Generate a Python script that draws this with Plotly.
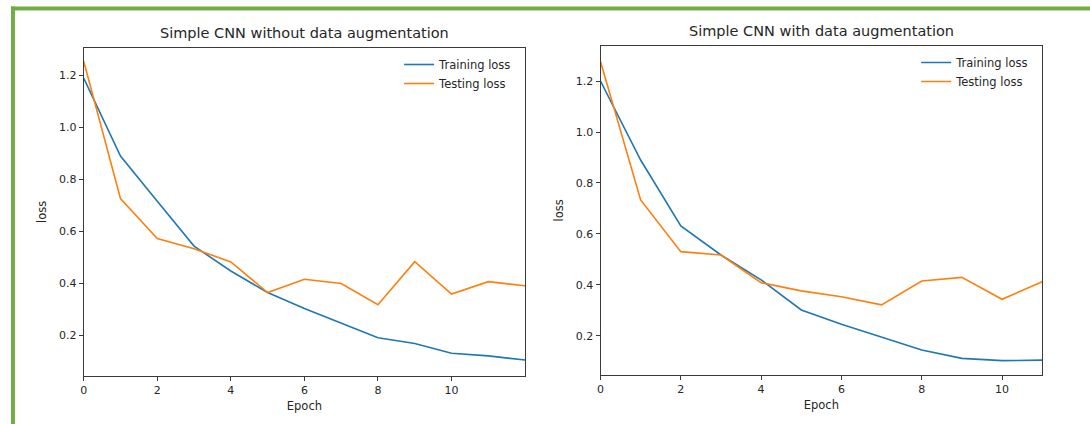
import plotly.graph_objects as go

# ---- data ----
epochs_left = list(range(13))
train_left = [1.19, 0.89, 0.716, 0.543, 0.447, 0.364, 0.303, 0.246, 0.19, 0.168, 0.13, 0.12, 0.104]
test_left = [1.255, 0.726, 0.572, 0.533, 0.482, 0.364, 0.415, 0.399, 0.317, 0.483, 0.358, 0.406, 0.39]

epochs_right = list(range(12))
train_right = [1.2, 0.89, 0.631, 0.517, 0.419, 0.301, 0.245, 0.196, 0.144, 0.111, 0.102, 0.104]
test_right = [1.277, 0.733, 0.53, 0.517, 0.408, 0.376, 0.353, 0.321, 0.415, 0.429, 0.343, 0.412]

titles = ["Simple CNN without data augmentation", "Simple CNN with data augmentation"]
x_ticks = [0, 2, 4, 6, 8, 10]
y_ticks = [0.2, 0.4, 0.6, 0.8, 1.0, 1.2]
y_tick_text = ["0.2", "0.4", "0.6", "0.8", "1.0", "1.2"]

BLUE = "#1f77b4"
ORANGE = "#ff7f0e"
GREEN = "#70ad47"
W, H = 1090, 424

fig = go.Figure()

fig.add_trace(go.Scatter(x=epochs_left, y=train_left, mode="lines", name="Training loss",
                         line=dict(color=BLUE, width=1.6), xaxis="x", yaxis="y", legend="legend"))
fig.add_trace(go.Scatter(x=epochs_left, y=test_left, mode="lines", name="Testing loss",
                         line=dict(color=ORANGE, width=1.6), xaxis="x", yaxis="y", legend="legend"))
fig.add_trace(go.Scatter(x=epochs_right, y=train_right, mode="lines", name="Training loss",
                         line=dict(color=BLUE, width=1.6), xaxis="x2", yaxis="y2", legend="legend2"))
fig.add_trace(go.Scatter(x=epochs_right, y=test_right, mode="lines", name="Testing loss",
                         line=dict(color=ORANGE, width=1.6), xaxis="x2", yaxis="y2", legend="legend2"))

FONT = "DejaVu Sans"
TXT = "#262626"
tickfont = dict(family=FONT, size=11, color=TXT)

axis_common = dict(showgrid=False, zeroline=False, showline=True, linecolor="#3a3a3a", linewidth=1,
                   mirror=True, ticks="outside", ticklen=4, tickwidth=1, tickcolor="#3a3a3a",
                   tickfont=tickfont)

fig.update_layout(
    width=W, height=H,
    margin=dict(l=0, r=0, t=0, b=0),
    paper_bgcolor="white", plot_bgcolor="white",
    font=dict(family=FONT, color=TXT),
    xaxis=dict(domain=[80 / W, 523 / W], range=[0, 12], tickvals=x_ticks, anchor="y",
               title=dict(text="Epoch", font=dict(family=FONT, size=11.5, color=TXT), standoff=5),
               **axis_common),
    yaxis=dict(domain=[(H - 376) / H, (H - 47.7) / H], range=[0.0425, 1.3075], tickvals=y_ticks,
               ticktext=y_tick_text, anchor="x",
               title=dict(text="loss", font=dict(family=FONT, size=11.5, color=TXT), standoff=9),
               **axis_common),
    xaxis2=dict(domain=[598.7 / W, 1042 / W], range=[0, 11], tickvals=x_ticks, anchor="y2",
                title=dict(text="Epoch", font=dict(family=FONT, size=11.5, color=TXT), standoff=5),
                **axis_common),
    yaxis2=dict(domain=[(H - 375) / H, (H - 45.7) / H], range=[0.0456, 1.339], tickvals=y_ticks,
                ticktext=y_tick_text, anchor="x2",
                title=dict(text="loss", font=dict(family=FONT, size=11.5, color=TXT), standoff=9),
                **axis_common),
    legend=dict(x=515 / W, y=(H - 50) / H, xanchor="right", yanchor="top",
                bgcolor="rgba(0,0,0,0)", borderwidth=0, tracegroupgap=0,
                font=dict(family=FONT, size=11.5, color=TXT)),
    legend2=dict(x=1034 / W, y=(H - 48) / H, xanchor="right", yanchor="top",
                 bgcolor="rgba(0,0,0,0)", borderwidth=0, tracegroupgap=0,
                 font=dict(family=FONT, size=11.5, color=TXT)),
    showlegend=True,
)

for i, t in enumerate(titles):
    xr = "x domain" if i == 0 else "x2 domain"
    yr = "y domain" if i == 0 else "y2 domain"
    fig.add_annotation(text=t, xref=xr, yref=yr, x=0.5, y=1, xanchor="center", yanchor="bottom",
                       yshift=5, showarrow=False, font=dict(family=FONT, size=14.5, color=TXT))

# green frame (decoration of the picture)
fig.add_shape(type="rect", xref="paper", yref="paper", x0=7 / W, x1=11 / W, y0=0, y1=(H - 6.5) / H,
              fillcolor=GREEN, line=dict(width=0), layer="above")
fig.add_shape(type="rect", xref="paper", yref="paper", x0=7 / W, x1=1, y0=(H - 10.5) / H, y1=(H - 6.5) / H,
              fillcolor=GREEN, line=dict(width=0), layer="above")

fig.write_html(
    "out.html",
    config={"displayModeBar": False},
    post_script="document.body.style.margin='0';document.body.style.padding='0';"
                "document.documentElement.style.overflow='hidden';",
)
